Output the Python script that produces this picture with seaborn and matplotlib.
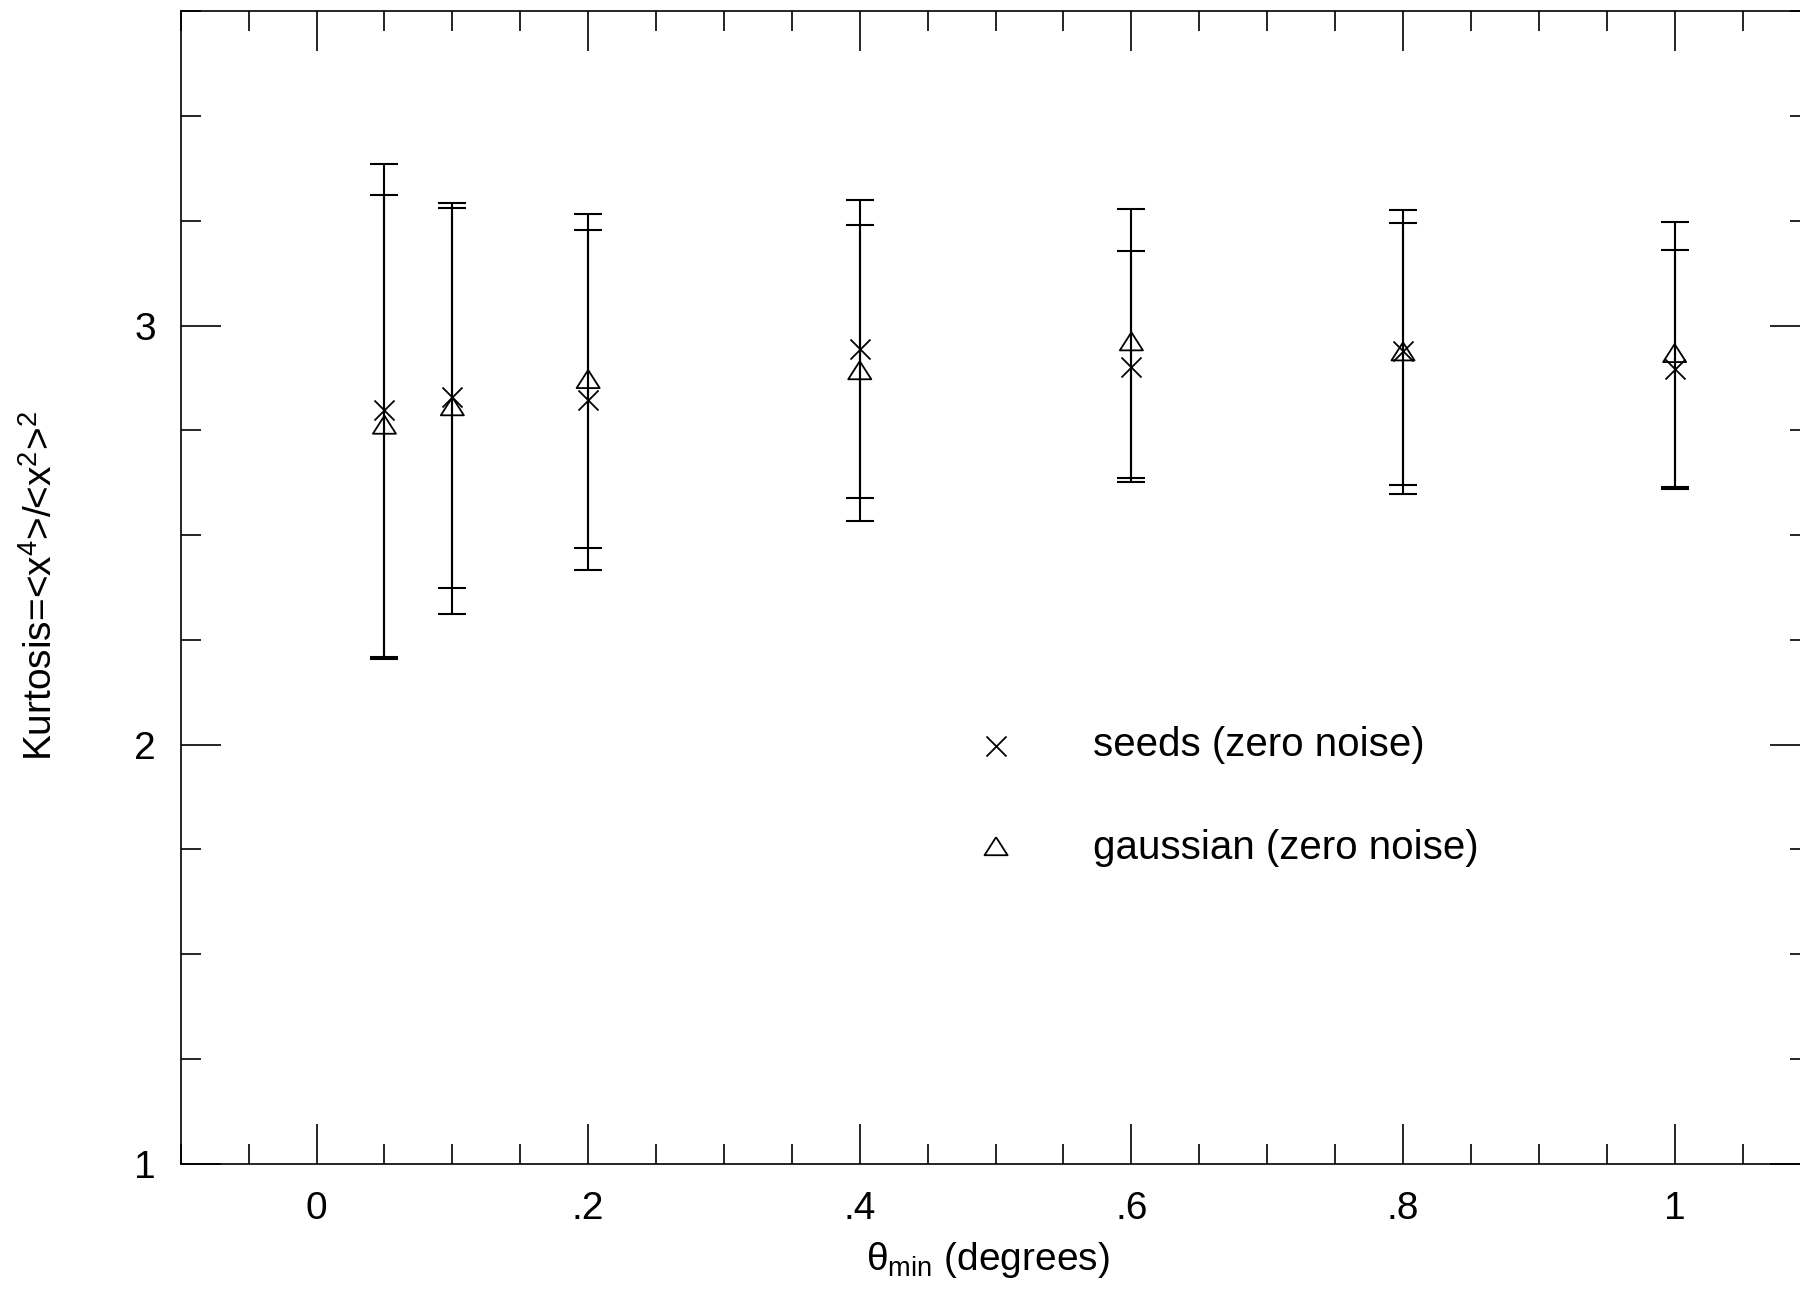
import numpy as np
import pandas as pd
import matplotlib
matplotlib.use("Agg")
import matplotlib.pyplot as plt
from matplotlib.ticker import MultipleLocator, FixedLocator, FixedFormatter
import seaborn as sns

# ---- data ----
theta_min = [0.05, 0.1, 0.2, 0.4, 0.6, 0.8, 1.0]

seeds_k = [2.798, 2.829, 2.822, 2.945, 2.902, 2.940, 2.897]
seeds_hi = [3.3866, 3.281, 3.2275, 3.301, 3.179, 3.276, 3.180]
seeds_lo = [2.2083, 2.375, 2.416, 2.590, 2.626, 2.598, 2.610]

gauss_k = [2.759, 2.803, 2.868, 2.889, 2.958, 2.934, 2.930]
gauss_hi = [3.3125, 3.292, 3.267, 3.241, 3.279, 3.244, 3.248]
gauss_lo = [2.2043, 2.311, 2.469, 2.535, 2.6364, 2.6204, 2.6149]

x_tick_vals = [0, 0.2, 0.4, 0.6, 0.8, 1.0]
x_tick_labels = ["0", ".2", ".4", ".6", ".8", "1"]
y_tick_vals = [1, 2, 3]
y_tick_labels = ["1", "2", "3"]

label_seeds = "seeds (zero noise)"
label_gauss = "gaussian (zero noise)"

# ---- style ----
sns.set_theme(style="white")
plt.rcParams["font.family"] = ["Liberation Sans", "DejaVu Sans"]
plt.rcParams["text.color"] = "black"
plt.rcParams["axes.labelcolor"] = "black"
plt.rcParams["xtick.color"] = "black"
plt.rcParams["ytick.color"] = "black"
plt.rcParams["mathtext.fontset"] = "custom"
plt.rcParams["mathtext.rm"] = "Liberation Sans"
plt.rcParams["mathtext.it"] = "Liberation Sans:italic"
plt.rcParams["mathtext.bf"] = "Liberation Sans:bold"

df_s = pd.DataFrame({"theta": theta_min, "k": seeds_k})
df_g = pd.DataFrame({"theta": theta_min, "k": gauss_k})

fig = plt.figure(figsize=(18, 12.91), dpi=100)
ax = fig.add_axes([0.1004, 0.0986, 1.0058 - 0.1004, 0.9911 - 0.0986])

# error bars
err_lw = 1.5
for k, lo, hi in [(seeds_k, seeds_lo, seeds_hi), (gauss_k, gauss_lo, gauss_hi)]:
    k = np.array(k); lo = np.array(lo); hi = np.array(hi)
    ax.errorbar(theta_min, k, yerr=[k - lo, hi - k], fmt="none", ecolor="black",
                elinewidth=err_lw, capsize=10, capthick=err_lw, zorder=2)

# markers
tri = [(0, 0.957), (-1, -0.61), (1, -0.61), (0, 0.957)]
ms_x = 14.4
ms_t = 16.6
sns.scatterplot(data=df_s, x="theta", y="k", marker="x", s=ms_x ** 2, color="black",
                linewidth=1.3, ax=ax, label=label_seeds, zorder=3)
sns.scatterplot(data=df_g, x="theta", y="k", marker=tri, s=ms_t ** 2, facecolor="none",
                edgecolor="black", linewidth=1.3, ax=ax, label=label_gauss, zorder=3)

ax.set_xlim(-0.1, 1.1)
ax.set_ylim(1, 3.75)

ax.xaxis.set_major_locator(FixedLocator(x_tick_vals))
ax.xaxis.set_major_formatter(FixedFormatter(x_tick_labels))
ax.xaxis.set_minor_locator(MultipleLocator(0.05))
ax.yaxis.set_major_locator(FixedLocator(y_tick_vals))
ax.yaxis.set_major_formatter(FixedFormatter(y_tick_labels))
ax.yaxis.set_minor_locator(MultipleLocator(0.25))

ax.tick_params(which="both", direction="in", top=True, right=True, bottom=True, left=True,
               color="black", width=1.2)
ax.tick_params(which="major", length=28.8, labelsize=28, pad=20, labelcolor="black")
ax.tick_params(which="minor", length=14.4)
ax.tick_params(axis="y", which="major", pad=18)

for sp in ax.spines.values():
    sp.set_visible(True)
    sp.set_color("black")
    sp.set_linewidth(1.2)

ax.set_xlabel("θ$_{\\mathrm{min}}$ (degrees)", fontsize=28)
ax.set_ylabel("Kurtosis=<x$^{4}$>/<x$^{2}$>$^{2}$", fontsize=28)
ax.xaxis.set_label_coords(0.4953, -0.066)
ax.yaxis.set_label_coords(-0.074, 0.501)

leg = ax.legend(loc="center left", bbox_to_anchor=(0.5433, 0.383),
                bbox_transform=fig.transFigure, frameon=False,
                prop={"size": 29},
                handlelength=0.9, handletextpad=1.96, labelspacing=1.6,
                borderpad=0, borderaxespad=0)

fig.savefig("out.png", dpi=100)
